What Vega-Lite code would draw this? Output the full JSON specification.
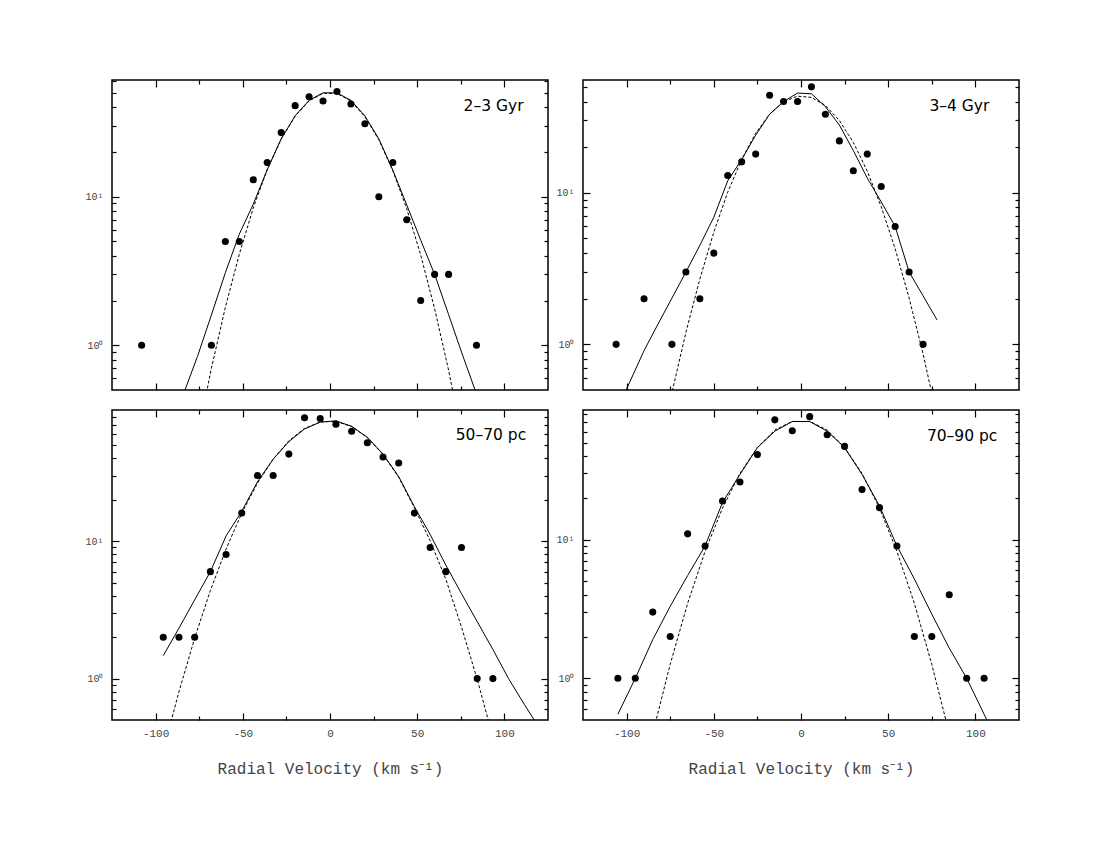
{
  "$schema": "https://vega.github.io/schema/vega-lite/v6.json",
  "background": "white",
  "padding": {"left": 84, "top": 78, "right": 5, "bottom": 5},
  "columns": 2,
  "spacing": {"row": 20, "column": 35},
  "bounds": "flush",
  "config": {
    "view": {"stroke": "black", "strokeWidth": 1.5},
    "axis": {"grid": false, "domain": false, "tickColor": "black", "tickWidth": 1.2, "labelFont": "Liberation Mono", "labelColor": "#444", "labelOverlap": false, "labelFlush": false, "title": null}
  },
  "datasets": {
    "pts": [
      {"p":"TL","v":-108,"n":1},{"p":"TL","v":-68,"n":1},{"p":"TL","v":-60,"n":5},{"p":"TL","v":-52,"n":5},{"p":"TL","v":-44,"n":13},{"p":"TL","v":-36,"n":17},{"p":"TL","v":-28,"n":27},{"p":"TL","v":-20,"n":41},{"p":"TL","v":-12,"n":47},{"p":"TL","v":-4,"n":44},{"p":"TL","v":4,"n":51},{"p":"TL","v":12,"n":42},{"p":"TL","v":20,"n":31},{"p":"TL","v":28,"n":10},{"p":"TL","v":36,"n":17},{"p":"TL","v":44,"n":7},{"p":"TL","v":52,"n":2},{"p":"TL","v":60,"n":3},{"p":"TL","v":68,"n":3},{"p":"TL","v":84,"n":1},
      {"p":"TR","v":-106,"n":1},{"p":"TR","v":-90,"n":2},{"p":"TR","v":-74,"n":1},{"p":"TR","v":-66,"n":3},{"p":"TR","v":-58,"n":2},{"p":"TR","v":-50,"n":4},{"p":"TR","v":-42,"n":13},{"p":"TR","v":-34,"n":16},{"p":"TR","v":-26,"n":18},{"p":"TR","v":-18,"n":44},{"p":"TR","v":-10,"n":40},{"p":"TR","v":-2,"n":40},{"p":"TR","v":6,"n":50},{"p":"TR","v":14,"n":33},{"p":"TR","v":22,"n":22},{"p":"TR","v":30,"n":14},{"p":"TR","v":38,"n":18},{"p":"TR","v":46,"n":11},{"p":"TR","v":54,"n":6},{"p":"TR","v":62,"n":3},{"p":"TR","v":70,"n":1},
      {"p":"BL","v":-95.6,"n":2},{"p":"BL","v":-86.6,"n":2},{"p":"BL","v":-77.6,"n":2},{"p":"BL","v":-68.6,"n":6},{"p":"BL","v":-59.6,"n":8},{"p":"BL","v":-50.6,"n":16},{"p":"BL","v":-41.6,"n":30},{"p":"BL","v":-32.6,"n":30},{"p":"BL","v":-23.6,"n":43},{"p":"BL","v":-14.6,"n":79},{"p":"BL","v":-5.6,"n":78},{"p":"BL","v":3.4,"n":71},{"p":"BL","v":12.4,"n":63},{"p":"BL","v":21.4,"n":52},{"p":"BL","v":30.4,"n":41},{"p":"BL","v":39.4,"n":37},{"p":"BL","v":48.4,"n":16},{"p":"BL","v":57.4,"n":9},{"p":"BL","v":66.4,"n":6},{"p":"BL","v":75.4,"n":9},{"p":"BL","v":84.4,"n":1},{"p":"BL","v":93.4,"n":1},
      {"p":"BR","v":-105,"n":1},{"p":"BR","v":-95,"n":1},{"p":"BR","v":-85,"n":3},{"p":"BR","v":-75,"n":2},{"p":"BR","v":-65,"n":11},{"p":"BR","v":-55,"n":9},{"p":"BR","v":-45,"n":19},{"p":"BR","v":-35,"n":26},{"p":"BR","v":-25,"n":41},{"p":"BR","v":-15,"n":73},{"p":"BR","v":-5,"n":61},{"p":"BR","v":5,"n":77},{"p":"BR","v":15,"n":57},{"p":"BR","v":25,"n":47},{"p":"BR","v":35,"n":23},{"p":"BR","v":45,"n":17},{"p":"BR","v":55,"n":9},{"p":"BR","v":65,"n":2},{"p":"BR","v":75,"n":2},{"p":"BR","v":85,"n":4},{"p":"BR","v":95,"n":1},{"p":"BR","v":105,"n":1}
    ],
    "fits": [
      {"p":"TL","c":"s","v":-92,"n":0.26},{"p":"TL","c":"s","v":-84,"n":0.47},{"p":"TL","c":"s","v":-76,"n":0.84},{"p":"TL","c":"s","v":-68,"n":1.6},{"p":"TL","c":"s","v":-60,"n":3.08},{"p":"TL","c":"s","v":-52,"n":5.6},{"p":"TL","c":"s","v":-44,"n":8.9},{"p":"TL","c":"s","v":-36,"n":15.2},{"p":"TL","c":"s","v":-28,"n":24.5},{"p":"TL","c":"s","v":-20,"n":35},{"p":"TL","c":"s","v":-12,"n":44.5},{"p":"TL","c":"s","v":-4,"n":50},{"p":"TL","c":"s","v":4,"n":50},{"p":"TL","c":"s","v":12,"n":44.5},{"p":"TL","c":"s","v":20,"n":35},{"p":"TL","c":"s","v":28,"n":24.5},{"p":"TL","c":"s","v":36,"n":15.1},{"p":"TL","c":"s","v":44,"n":8.8},{"p":"TL","c":"s","v":52,"n":5.1},{"p":"TL","c":"s","v":60,"n":3.0},{"p":"TL","c":"s","v":68,"n":1.61},{"p":"TL","c":"s","v":76,"n":0.86},{"p":"TL","c":"s","v":84,"n":0.47},{"p":"TL","c":"s","v":92,"n":0.25},
      {"p":"TL","c":"d","v":-76,"n":0.24},{"p":"TL","c":"d","v":-68,"n":0.7},{"p":"TL","c":"d","v":-60,"n":1.8},{"p":"TL","c":"d","v":-52,"n":4.1},{"p":"TL","c":"d","v":-44,"n":8.4},{"p":"TL","c":"d","v":-36,"n":15.2},{"p":"TL","c":"d","v":-28,"n":24.4},{"p":"TL","c":"d","v":-20,"n":34.8},{"p":"TL","c":"d","v":-12,"n":44.1},{"p":"TL","c":"d","v":-4,"n":49.6},{"p":"TL","c":"d","v":4,"n":49.5},{"p":"TL","c":"d","v":12,"n":44},{"p":"TL","c":"d","v":20,"n":34.5},{"p":"TL","c":"d","v":28,"n":24.2},{"p":"TL","c":"d","v":36,"n":15},{"p":"TL","c":"d","v":44,"n":8.3},{"p":"TL","c":"d","v":52,"n":4.05},{"p":"TL","c":"d","v":60,"n":1.76},{"p":"TL","c":"d","v":68,"n":0.68},{"p":"TL","c":"d","v":76,"n":0.23},
      {"p":"TR","c":"s","v":-106,"n":0.36},{"p":"TR","c":"s","v":-98,"n":0.57},{"p":"TR","c":"s","v":-90,"n":0.91},{"p":"TR","c":"s","v":-82,"n":1.36},{"p":"TR","c":"s","v":-74,"n":2.02},{"p":"TR","c":"s","v":-66,"n":3.0},{"p":"TR","c":"s","v":-58,"n":4.5},{"p":"TR","c":"s","v":-50,"n":6.9},{"p":"TR","c":"s","v":-42,"n":12},{"p":"TR","c":"s","v":-34,"n":16.6},{"p":"TR","c":"s","v":-26,"n":24},{"p":"TR","c":"s","v":-18,"n":33},{"p":"TR","c":"s","v":-10,"n":40},{"p":"TR","c":"s","v":-2,"n":45.5},{"p":"TR","c":"s","v":6,"n":45},{"p":"TR","c":"s","v":14,"n":37},{"p":"TR","c":"s","v":22,"n":28},{"p":"TR","c":"s","v":30,"n":19},{"p":"TR","c":"s","v":38,"n":12.5},{"p":"TR","c":"s","v":46,"n":8.7},{"p":"TR","c":"s","v":54,"n":6.0},{"p":"TR","c":"s","v":62,"n":3.0},{"p":"TR","c":"s","v":70,"n":2.09},{"p":"TR","c":"s","v":78,"n":1.45},
      {"p":"TR","c":"d","v":-82,"n":0.174},{"p":"TR","c":"d","v":-74,"n":0.48},{"p":"TR","c":"d","v":-66,"n":1.2},{"p":"TR","c":"d","v":-58,"n":2.7},{"p":"TR","c":"d","v":-50,"n":5.5},{"p":"TR","c":"d","v":-42,"n":10.1},{"p":"TR","c":"d","v":-34,"n":16.6},{"p":"TR","c":"d","v":-26,"n":24.7},{"p":"TR","c":"d","v":-18,"n":33},{"p":"TR","c":"d","v":-10,"n":39.9},{"p":"TR","c":"d","v":-2,"n":43.4},{"p":"TR","c":"d","v":6,"n":42.6},{"p":"TR","c":"d","v":14,"n":37.7},{"p":"TR","c":"d","v":22,"n":30},{"p":"TR","c":"d","v":30,"n":21.5},{"p":"TR","c":"d","v":38,"n":13.9},{"p":"TR","c":"d","v":46,"n":8.1},{"p":"TR","c":"d","v":54,"n":4.27},{"p":"TR","c":"d","v":62,"n":2.02},{"p":"TR","c":"d","v":70,"n":0.865},{"p":"TR","c":"d","v":78,"n":0.333},
      {"p":"BL","c":"s","v":-95.6,"n":1.47},{"p":"BL","c":"s","v":-86.6,"n":2.33},{"p":"BL","c":"s","v":-77.6,"n":3.74},{"p":"BL","c":"s","v":-68.6,"n":6},{"p":"BL","c":"s","v":-59.6,"n":10.9},{"p":"BL","c":"s","v":-50.6,"n":16.5},{"p":"BL","c":"s","v":-41.6,"n":27},{"p":"BL","c":"s","v":-32.6,"n":39.5},{"p":"BL","c":"s","v":-23.6,"n":53},{"p":"BL","c":"s","v":-14.6,"n":65.5},{"p":"BL","c":"s","v":-5.6,"n":73.5},{"p":"BL","c":"s","v":3.4,"n":75},{"p":"BL","c":"s","v":12.4,"n":68.5},{"p":"BL","c":"s","v":21.4,"n":57},{"p":"BL","c":"s","v":30.4,"n":43},{"p":"BL","c":"s","v":39.4,"n":29.5},{"p":"BL","c":"s","v":48.4,"n":17.8},{"p":"BL","c":"s","v":57.4,"n":11.2},{"p":"BL","c":"s","v":66.4,"n":6.7},{"p":"BL","c":"s","v":75.4,"n":4.15},{"p":"BL","c":"s","v":84.4,"n":2.6},{"p":"BL","c":"s","v":93.4,"n":1.63},{"p":"BL","c":"s","v":102.4,"n":1.0},{"p":"BL","c":"s","v":111.4,"n":0.65},{"p":"BL","c":"s","v":120.4,"n":0.43},
      {"p":"BL","c":"d","v":-95.6,"n":0.298},{"p":"BL","c":"d","v":-86.6,"n":0.804},{"p":"BL","c":"d","v":-77.6,"n":1.97},{"p":"BL","c":"d","v":-68.6,"n":4.37},{"p":"BL","c":"d","v":-59.6,"n":8.77},{"p":"BL","c":"d","v":-50.6,"n":16},{"p":"BL","c":"d","v":-41.6,"n":26.4},{"p":"BL","c":"d","v":-32.6,"n":39.5},{"p":"BL","c":"d","v":-23.6,"n":53.7},{"p":"BL","c":"d","v":-14.6,"n":66.1},{"p":"BL","c":"d","v":-5.6,"n":73.6},{"p":"BL","c":"d","v":3.4,"n":74.5},{"p":"BL","c":"d","v":12.4,"n":68.2},{"p":"BL","c":"d","v":21.4,"n":56.6},{"p":"BL","c":"d","v":30.4,"n":42.7},{"p":"BL","c":"d","v":39.4,"n":29.1},{"p":"BL","c":"d","v":48.4,"n":17.5},{"p":"BL","c":"d","v":57.4,"n":10.1},{"p":"BL","c":"d","v":66.4,"n":5.3},{"p":"BL","c":"d","v":75.4,"n":2.37},{"p":"BL","c":"d","v":84.4,"n":0.99},{"p":"BL","c":"d","v":93.4,"n":0.375},
      {"p":"BR","c":"s","v":-105,"n":0.55},{"p":"BR","c":"s","v":-95,"n":1.0},{"p":"BR","c":"s","v":-85,"n":1.9},{"p":"BR","c":"s","v":-75,"n":3.3},{"p":"BR","c":"s","v":-65,"n":5.5},{"p":"BR","c":"s","v":-55,"n":9.0},{"p":"BR","c":"s","v":-45,"n":18.5},{"p":"BR","c":"s","v":-35,"n":29.5},{"p":"BR","c":"s","v":-25,"n":46},{"p":"BR","c":"s","v":-15,"n":60.5},{"p":"BR","c":"s","v":-5,"n":71},{"p":"BR","c":"s","v":5,"n":71},{"p":"BR","c":"s","v":15,"n":60.5},{"p":"BR","c":"s","v":25,"n":46},{"p":"BR","c":"s","v":35,"n":29.5},{"p":"BR","c":"s","v":45,"n":17.5},{"p":"BR","c":"s","v":55,"n":9.0},{"p":"BR","c":"s","v":65,"n":5.2},{"p":"BR","c":"s","v":75,"n":2.9},{"p":"BR","c":"s","v":85,"n":1.65},{"p":"BR","c":"s","v":95,"n":1.0},{"p":"BR","c":"s","v":105,"n":0.55},{"p":"BR","c":"s","v":115,"n":0.3},
      {"p":"BR","c":"d","v":-95,"n":0.11},{"p":"BR","c":"d","v":-85,"n":0.4},{"p":"BR","c":"d","v":-75,"n":1.26},{"p":"BR","c":"d","v":-65,"n":3.47},{"p":"BR","c":"d","v":-55,"n":8.22},{"p":"BR","c":"d","v":-45,"n":16.9},{"p":"BR","c":"d","v":-35,"n":30},{"p":"BR","c":"d","v":-25,"n":46.2},{"p":"BR","c":"d","v":-15,"n":61.7},{"p":"BR","c":"d","v":-5,"n":71.1},{"p":"BR","c":"d","v":5,"n":71.1},{"p":"BR","c":"d","v":15,"n":61.7},{"p":"BR","c":"d","v":25,"n":46.2},{"p":"BR","c":"d","v":35,"n":30},{"p":"BR","c":"d","v":45,"n":16.9},{"p":"BR","c":"d","v":55,"n":8.22},{"p":"BR","c":"d","v":65,"n":3.47},{"p":"BR","c":"d","v":75,"n":1.26},{"p":"BR","c":"d","v":85,"n":0.4},{"p":"BR","c":"d","v":95,"n":0.11}
    ]
  },
  "concat": [
    {
      "width": 436, "height": 310,
      "layer": [
        {"data": {"name": "pts"}, "transform": [{"filter": "datum.p == 'TL'"}],
         "mark": {"type": "circle", "size": 50, "color": "black", "opacity": 1},
         "encoding": {
           "x": {"field": "v", "type": "quantitative", "scale": {"domain": [-125, 125], "nice": false, "zero": false}, "axis": null},
           "y": {"field": "n", "type": "quantitative", "scale": {"type": "log", "domain": [0.5, 61], "nice": false},
                 "axis": {"orient": "left", "values": [1, 10], "labelExpr": "datum.value == 1 ? '10⁰' : '10¹'", "labelFontSize": 10, "labelPadding": 9, "ticks": false}}
         }},
        {"data": {"name": "fits"}, "transform": [{"filter": "datum.p == 'TL' && datum.c == 's'"}],
         "mark": {"type": "line", "color": "black", "strokeWidth": 1, "clip": true},
         "encoding": {
           "x": {"field": "v", "type": "quantitative", "axis": {"orient": "top", "offset": -310, "values": [-100,-50,0,50,100], "labels": false, "tickSize": 7}},
           "y": {"field": "n", "type": "quantitative", "axis": {"orient": "right", "offset": -436, "values": [1, 10], "labels": false, "tickSize": 7}}
         }},
        {"data": {"name": "fits"}, "transform": [{"filter": "datum.p == 'TL' && datum.c == 'd'"}],
         "mark": {"type": "line", "color": "black", "strokeWidth": 1, "strokeDash": [3, 2], "clip": true},
         "encoding": {
           "x": {"field": "v", "type": "quantitative", "axis": {"orient": "top", "offset": -310, "values": [-75,-25,25,75], "labels": false, "tickSize": 4}},
           "y": {"field": "n", "type": "quantitative", "axis": {"orient": "right", "offset": -436, "values": [0.6,0.7,0.8,0.9,2,3,4,5,6,7,8,9,20,30,40,50,60], "labels": false, "tickSize": 4}}
         }},
        {"data": {"name": "pts"}, "transform": [{"filter": "datum.p == 'TL'"}],
         "mark": {"type": "circle", "size": 50, "opacity": 0},
         "encoding": {
           "x": {"field": "v", "type": "quantitative", "axis": {"orient": "bottom", "offset": -310, "values": [-100,-50,0,50,100], "labels": false, "tickSize": 7}},
           "y": {"field": "n", "type": "quantitative", "axis": {"orient": "left", "offset": -436, "values": [1, 10], "labels": false, "tickSize": 7}}
         }},
        {"data": {"name": "pts"}, "transform": [{"filter": "datum.p == 'TL'"}],
         "mark": {"type": "circle", "size": 50, "opacity": 0},
         "encoding": {
           "x": {"field": "v", "type": "quantitative", "axis": {"orient": "bottom", "offset": -310, "values": [-75,-25,25,75], "labels": false, "tickSize": 4}},
           "y": {"field": "n", "type": "quantitative", "axis": {"orient": "left", "offset": -436, "values": [0.6,0.7,0.8,0.9,2,3,4,5,6,7,8,9,20,30,40,50,60], "labels": false, "tickSize": 4}}
         }},
        {"data": {"values": [{}]},
         "mark": {"type": "text", "text": "2–3 Gyr", "align": "right", "baseline": "alphabetic", "font": "DejaVu Sans", "fontSize": 15.5, "color": "black"},
         "encoding": {"x": {"datum": 111, "type": "quantitative", "axis": null}, "y": {"datum": 37.9, "type": "quantitative", "axis": null}}}
      ],
      "resolve": {"axis": {"x": "independent", "y": "independent"}}
    },
    {
      "width": 436, "height": 310,
      "layer": [
        {"data": {"name": "pts"}, "transform": [{"filter": "datum.p == 'TR'"}],
         "mark": {"type": "circle", "size": 50, "color": "black", "opacity": 1},
         "encoding": {
           "x": {"field": "v", "type": "quantitative", "scale": {"domain": [-125, 125], "nice": false, "zero": false}, "axis": null},
           "y": {"field": "n", "type": "quantitative", "scale": {"type": "log", "domain": [0.5, 55.5], "nice": false},
                 "axis": {"orient": "left", "values": [1, 10], "labelExpr": "datum.value == 1 ? '10⁰' : '10¹'", "labelFontSize": 10, "labelPadding": 9, "ticks": false}}
         }},
        {"data": {"name": "fits"}, "transform": [{"filter": "datum.p == 'TR' && datum.c == 's'"}],
         "mark": {"type": "line", "color": "black", "strokeWidth": 1, "clip": true},
         "encoding": {
           "x": {"field": "v", "type": "quantitative", "axis": {"orient": "top", "offset": -310, "values": [-100,-50,0,50,100], "labels": false, "tickSize": 7}},
           "y": {"field": "n", "type": "quantitative", "axis": {"orient": "right", "offset": -436, "values": [1, 10], "labels": false, "tickSize": 7}}
         }},
        {"data": {"name": "fits"}, "transform": [{"filter": "datum.p == 'TR' && datum.c == 'd'"}],
         "mark": {"type": "line", "color": "black", "strokeWidth": 1, "strokeDash": [3, 2], "clip": true},
         "encoding": {
           "x": {"field": "v", "type": "quantitative", "axis": {"orient": "top", "offset": -310, "values": [-75,-25,25,75], "labels": false, "tickSize": 4}},
           "y": {"field": "n", "type": "quantitative", "axis": {"orient": "right", "offset": -436, "values": [0.6,0.7,0.8,0.9,2,3,4,5,6,7,8,9,20,30,40,50], "labels": false, "tickSize": 4}}
         }},
        {"data": {"name": "pts"}, "transform": [{"filter": "datum.p == 'TR'"}],
         "mark": {"type": "circle", "size": 50, "opacity": 0},
         "encoding": {
           "x": {"field": "v", "type": "quantitative", "axis": {"orient": "bottom", "offset": -310, "values": [-100,-50,0,50,100], "labels": false, "tickSize": 7}},
           "y": {"field": "n", "type": "quantitative", "axis": {"orient": "left", "offset": -436, "values": [1, 10], "labels": false, "tickSize": 7}}
         }},
        {"data": {"name": "pts"}, "transform": [{"filter": "datum.p == 'TR'"}],
         "mark": {"type": "circle", "size": 50, "opacity": 0},
         "encoding": {
           "x": {"field": "v", "type": "quantitative", "axis": {"orient": "bottom", "offset": -310, "values": [-75,-25,25,75], "labels": false, "tickSize": 4}},
           "y": {"field": "n", "type": "quantitative", "axis": {"orient": "left", "offset": -436, "values": [0.6,0.7,0.8,0.9,2,3,4,5,6,7,8,9,20,30,40,50], "labels": false, "tickSize": 4}}
         }},
        {"data": {"values": [{}]},
         "mark": {"type": "text", "text": "3–4 Gyr", "align": "right", "baseline": "alphabetic", "font": "DejaVu Sans", "fontSize": 15.5, "color": "black"},
         "encoding": {"x": {"datum": 108, "type": "quantitative", "axis": null}, "y": {"datum": 34.7, "type": "quantitative", "axis": null}}}
      ],
      "resolve": {"axis": {"x": "independent", "y": "independent"}}
    },
    {
      "width": 436, "height": 310,
      "layer": [
        {"data": {"name": "pts"}, "transform": [{"filter": "datum.p == 'BL'"}],
         "mark": {"type": "circle", "size": 50, "color": "black", "opacity": 1},
         "encoding": {
           "x": {"field": "v", "type": "quantitative", "scale": {"domain": [-125, 125], "nice": false, "zero": false},
                 "axis": {"orient": "bottom", "values": [-100,-50,0,50,100], "labelExpr": "'' + datum.value", "labelFontSize": 11, "labelPadding": 7, "ticks": false, "title": "Radial Velocity (km s⁻¹)", "titleFont": "Liberation Mono", "titleFontSize": 16, "titleFontWeight": "normal", "titleColor": "#444", "titlePadding": 22}},
           "y": {"field": "n", "type": "quantitative", "scale": {"type": "log", "domain": [0.5, 90], "nice": false},
                 "axis": {"orient": "left", "values": [1, 10], "labelExpr": "datum.value == 1 ? '10⁰' : '10¹'", "labelFontSize": 10, "labelPadding": 9, "ticks": false}}
         }},
        {"data": {"name": "fits"}, "transform": [{"filter": "datum.p == 'BL' && datum.c == 's'"}],
         "mark": {"type": "line", "color": "black", "strokeWidth": 1, "clip": true},
         "encoding": {
           "x": {"field": "v", "type": "quantitative", "axis": {"orient": "top", "offset": -310, "values": [-100,-50,0,50,100], "labels": false, "tickSize": 7}},
           "y": {"field": "n", "type": "quantitative", "axis": {"orient": "right", "offset": -436, "values": [1, 10], "labels": false, "tickSize": 7}}
         }},
        {"data": {"name": "fits"}, "transform": [{"filter": "datum.p == 'BL' && datum.c == 'd'"}],
         "mark": {"type": "line", "color": "black", "strokeWidth": 1, "strokeDash": [3, 2], "clip": true},
         "encoding": {
           "x": {"field": "v", "type": "quantitative", "axis": {"orient": "top", "offset": -310, "values": [-75,-25,25,75], "labels": false, "tickSize": 4}},
           "y": {"field": "n", "type": "quantitative", "axis": {"orient": "right", "offset": -436, "values": [0.6,0.7,0.8,0.9,2,3,4,5,6,7,8,9,20,30,40,50,60,70,80], "labels": false, "tickSize": 4}}
         }},
        {"data": {"name": "pts"}, "transform": [{"filter": "datum.p == 'BL'"}],
         "mark": {"type": "circle", "size": 50, "opacity": 0},
         "encoding": {
           "x": {"field": "v", "type": "quantitative", "axis": {"orient": "bottom", "offset": -310, "values": [-100,-50,0,50,100], "labels": false, "tickSize": 7}},
           "y": {"field": "n", "type": "quantitative", "axis": {"orient": "left", "offset": -436, "values": [1, 10], "labels": false, "tickSize": 7}}
         }},
        {"data": {"name": "pts"}, "transform": [{"filter": "datum.p == 'BL'"}],
         "mark": {"type": "circle", "size": 50, "opacity": 0},
         "encoding": {
           "x": {"field": "v", "type": "quantitative", "axis": {"orient": "bottom", "offset": -310, "values": [-75,-25,25,75], "labels": false, "tickSize": 4}},
           "y": {"field": "n", "type": "quantitative", "axis": {"orient": "left", "offset": -436, "values": [0.6,0.7,0.8,0.9,2,3,4,5,6,7,8,9,20,30,40,50,60,70,80], "labels": false, "tickSize": 4}}
         }},
        {"data": {"values": [{}]},
         "mark": {"type": "text", "text": "50–70 pc", "align": "right", "baseline": "alphabetic", "font": "DejaVu Sans", "fontSize": 15.5, "color": "black"},
         "encoding": {"x": {"datum": 112.5, "type": "quantitative", "axis": null}, "y": {"datum": 54.5, "type": "quantitative", "axis": null}}}
      ],
      "resolve": {"axis": {"x": "independent", "y": "independent"}}
    },
    {
      "width": 436, "height": 310,
      "layer": [
        {"data": {"name": "pts"}, "transform": [{"filter": "datum.p == 'BR'"}],
         "mark": {"type": "circle", "size": 50, "color": "black", "opacity": 1},
         "encoding": {
           "x": {"field": "v", "type": "quantitative", "scale": {"domain": [-125, 125], "nice": false, "zero": false},
                 "axis": {"orient": "bottom", "values": [-100,-50,0,50,100], "labelExpr": "'' + datum.value", "labelFontSize": 11, "labelPadding": 7, "ticks": false, "title": "Radial Velocity (km s⁻¹)", "titleFont": "Liberation Mono", "titleFontSize": 16, "titleFontWeight": "normal", "titleColor": "#444", "titlePadding": 22}},
           "y": {"field": "n", "type": "quantitative", "scale": {"type": "log", "domain": [0.5, 86], "nice": false},
                 "axis": {"orient": "left", "values": [1, 10], "labelExpr": "datum.value == 1 ? '10⁰' : '10¹'", "labelFontSize": 10, "labelPadding": 9, "ticks": false}}
         }},
        {"data": {"name": "fits"}, "transform": [{"filter": "datum.p == 'BR' && datum.c == 's'"}],
         "mark": {"type": "line", "color": "black", "strokeWidth": 1, "clip": true},
         "encoding": {
           "x": {"field": "v", "type": "quantitative", "axis": {"orient": "top", "offset": -310, "values": [-100,-50,0,50,100], "labels": false, "tickSize": 7}},
           "y": {"field": "n", "type": "quantitative", "axis": {"orient": "right", "offset": -436, "values": [1, 10], "labels": false, "tickSize": 7}}
         }},
        {"data": {"name": "fits"}, "transform": [{"filter": "datum.p == 'BR' && datum.c == 'd'"}],
         "mark": {"type": "line", "color": "black", "strokeWidth": 1, "strokeDash": [3, 2], "clip": true},
         "encoding": {
           "x": {"field": "v", "type": "quantitative", "axis": {"orient": "top", "offset": -310, "values": [-75,-25,25,75], "labels": false, "tickSize": 4}},
           "y": {"field": "n", "type": "quantitative", "axis": {"orient": "right", "offset": -436, "values": [0.6,0.7,0.8,0.9,2,3,4,5,6,7,8,9,20,30,40,50,60,70,80], "labels": false, "tickSize": 4}}
         }},
        {"data": {"name": "pts"}, "transform": [{"filter": "datum.p == 'BR'"}],
         "mark": {"type": "circle", "size": 50, "opacity": 0},
         "encoding": {
           "x": {"field": "v", "type": "quantitative", "axis": {"orient": "bottom", "offset": -310, "values": [-100,-50,0,50,100], "labels": false, "tickSize": 7}},
           "y": {"field": "n", "type": "quantitative", "axis": {"orient": "left", "offset": -436, "values": [1, 10], "labels": false, "tickSize": 7}}
         }},
        {"data": {"name": "pts"}, "transform": [{"filter": "datum.p == 'BR'"}],
         "mark": {"type": "circle", "size": 50, "opacity": 0},
         "encoding": {
           "x": {"field": "v", "type": "quantitative", "axis": {"orient": "bottom", "offset": -310, "values": [-75,-25,25,75], "labels": false, "tickSize": 4}},
           "y": {"field": "n", "type": "quantitative", "axis": {"orient": "left", "offset": -436, "values": [0.6,0.7,0.8,0.9,2,3,4,5,6,7,8,9,20,30,40,50,60,70,80], "labels": false, "tickSize": 4}}
         }},
        {"data": {"values": [{}]},
         "mark": {"type": "text", "text": "70–90 pc", "align": "right", "baseline": "alphabetic", "font": "DejaVu Sans", "fontSize": 15.5, "color": "black"},
         "encoding": {"x": {"datum": 112.6, "type": "quantitative", "axis": null}, "y": {"datum": 51.8, "type": "quantitative", "axis": null}}}
      ],
      "resolve": {"axis": {"x": "independent", "y": "independent"}}
    }
  ]
}
